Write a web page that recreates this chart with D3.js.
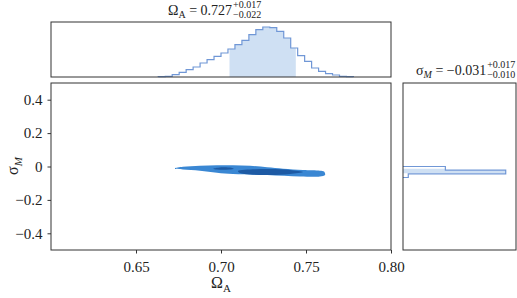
<!DOCTYPE html>
<html>
<head>
<meta charset="utf-8">
<script src="https://cdn.jsdelivr.net/npm/d3@7"></script>
<style>
body { margin: 0; background: #fff; }
text { font-family: "Liberation Serif", "DejaVu Serif", serif; fill: #222; }
</style>
</head>
<body>
<div id="chart"></div>
<script>
// marginal histogram of Omega_A (bin edges + relative counts)
const omegaEdges = [0.6631, 0.6672, 0.6713, 0.6754, 0.6795, 0.6836, 0.6877, 0.6918, 0.6959, 0.7000,
    0.7041, 0.7082, 0.7123, 0.7164, 0.7205, 0.7246, 0.7287, 0.7328, 0.7369, 0.7410,
    0.7451, 0.7492, 0.7533, 0.7574, 0.7615, 0.7656, 0.7697, 0.7738, 0.7779]
const omegaCounts = [0.3, 0.7, 2.3, 4.7, 7.3, 10, 14, 17.3, 20.7, 24, 28, 32.3, 36.7, 42.3,
    47.3, 50, 49.3, 45.7, 39, 29, 21.3, 15.7, 9, 5.7, 3.3, 2, 0.7, 0.3]
const omegaBand = [0.705, 0.744]
const omegaSummary = ["0.727", "+0.017", "\u22120.022"]

// marginal histogram of sigma_M
const sigmaEdges = [0.0, -0.022, -0.044, -0.066]
const sigmaCounts = [42.6, 103.3, 5.3]
const sigmaBand = [-0.041, -0.014]
const sigmaSummary = ["\u22120.031", "+0.017", "\u22120.010"]

// 2d credible regions (Omega_A, sigma_M)
const outerContour = [
    [0.6729, -0.0108], [0.6776, -0.0018], [0.6876, 0.0042], [0.6976, 0.0078], [0.7071, 0.0072],
    [0.7171, 0.0042], [0.7271, -0.0048], [0.7365, -0.0132], [0.7482, -0.0210], [0.7582, -0.0251],
    [0.7606, -0.0299], [0.7612, -0.0509], [0.7582, -0.0599], [0.7465, -0.0599], [0.7271, -0.0509],
    [0.7071, -0.0449], [0.6976, -0.0371], [0.6876, -0.0251], [0.6776, -0.0180]
]
const innerContours = [
    [[0.6955, -0.013], [0.6985, -0.007], [0.7020, -0.005], [0.7060, -0.008], [0.7075, -0.013],
     [0.7050, -0.018], [0.7010, -0.020], [0.6975, -0.018]],
    [[0.7100, -0.027], [0.7200, -0.0168], [0.7288, -0.015], [0.7406, -0.021], [0.7482, -0.033],
     [0.7406, -0.045], [0.7288, -0.051], [0.7171, -0.048], [0.7112, -0.039]]
]

const xTicks = [0.65, 0.70, 0.75, 0.80]
const yTicks = [0.4, 0.2, 0, -0.2, -0.4]

const W = 517, H = 298
const lineColor = "#7097d6", fillColor = "#cfe0f3"
const outerColor = "#3a87d3", innerColor = "#1d5aa4"

const svg = d3.select('#chart').append('svg')
    .attr('width', W)
    .attr('height', H)

const x = d3.scaleLinear().domain([0.60, 0.80]).range([51, 391])
const y = d3.scaleLinear().domain([-0.5, 0.5]).range([250, 83])
const yTop = d3.scaleLinear().domain([0, d3.max(omegaCounts) * 1.1]).range([77, 22])
const xRight = d3.scaleLinear().domain([0, d3.max(sigmaCounts) * 1.1]).range([403, 516])

// ---- top histogram
const topPts = [[omegaEdges[0], 0]]
omegaCounts.forEach((c, i) => {
    topPts.push([omegaEdges[i], c])
    topPts.push([omegaEdges[i + 1], c])
})
topPts.push([omegaEdges[omegaEdges.length - 1], 0])

svg.append('clipPath').attr('id', 'clipTop')
    .append('rect')
    .attr('x', x(omegaBand[0])).attr('y', 22)
    .attr('width', x(omegaBand[1]) - x(omegaBand[0])).attr('height', 55)

svg.append('path')
    .datum(topPts)
    .attr('clip-path', 'url(#clipTop)')
    .attr('fill', fillColor)
    .attr('d', d3.line().x(d => x(d[0])).y(d => yTop(d[1])))

svg.append('path')
    .datum(topPts)
    .attr('fill', 'none')
    .attr('stroke', lineColor)
    .attr('stroke-width', 1.2)
    .attr('d', d3.line().x(d => x(d[0])).y(d => yTop(d[1])))

svg.append('rect')
    .attr('x', 51).attr('y', 22).attr('width', 340).attr('height', 55)
    .attr('fill', 'none').attr('stroke', '#333').attr('stroke-width', 1)

// ---- right histogram
const rightPts = [[0, sigmaEdges[0]]]
sigmaCounts.forEach((c, i) => {
    rightPts.push([c, sigmaEdges[i]])
    rightPts.push([c, sigmaEdges[i + 1]])
})
rightPts.push([0, sigmaEdges[sigmaEdges.length - 1]])

svg.append('clipPath').attr('id', 'clipRight')
    .append('rect')
    .attr('x', 403).attr('y', y(sigmaBand[1]))
    .attr('width', 113).attr('height', y(sigmaBand[0]) - y(sigmaBand[1]))

svg.append('path')
    .datum(rightPts)
    .attr('clip-path', 'url(#clipRight)')
    .attr('fill', fillColor)
    .attr('d', d3.line().x(d => xRight(d[0])).y(d => y(d[1])))

svg.append('path')
    .datum(rightPts)
    .attr('fill', 'none')
    .attr('stroke', lineColor)
    .attr('stroke-width', 1.2)
    .attr('d', d3.line().x(d => xRight(d[0])).y(d => y(d[1])))

svg.append('rect')
    .attr('x', 403).attr('y', 83).attr('width', 113).attr('height', 167)
    .attr('fill', 'none').attr('stroke', '#333').attr('stroke-width', 1)

// ---- main panel contours
const blob = d3.line().x(d => x(d[0])).y(d => y(d[1])).curve(d3.curveCatmullRomClosed.alpha(0.5))
svg.append('path').attr('d', blob(outerContour)).attr('fill', outerColor)
innerContours.forEach(c => svg.append('path').attr('d', blob(c)).attr('fill', innerColor))

svg.append('rect')
    .attr('x', 51).attr('y', 83).attr('width', 340).attr('height', 167)
    .attr('fill', 'none').attr('stroke', '#333').attr('stroke-width', 1)

// axes
const xAxis = svg.append('g')
    .attr('transform', 'translate(0,250)')
    .call(d3.axisBottom(x).tickValues(xTicks).tickFormat(d3.format('.2f')).tickSize(3.5).tickPadding(8))
const yAxis = svg.append('g')
    .attr('transform', 'translate(51,0)')
    .call(d3.axisLeft(y).tickValues(yTicks).tickFormat(d => d === 0 ? '0' : d3.format('.1f')(d)).tickSize(3.5).tickPadding(5))
;[xAxis, yAxis].forEach(a => {
    a.select('.domain').remove()
    a.selectAll('line').attr('stroke', '#333')
    a.selectAll('text').attr('font-size', 15).attr('font-family', '"Liberation Serif", serif').attr('fill', '#222')
})

// axis labels
const xl = svg.append('text').attr('x', 221).attr('y', 288).attr('text-anchor', 'middle').attr('font-size', 16)
xl.append('tspan').text('\u03A9')
xl.append('tspan').attr('font-size', 11).attr('dy', 4).text('A')

const yl = svg.append('text').attr('transform', 'translate(18,166) rotate(-90)').attr('text-anchor', 'middle').attr('font-size', 16)
yl.append('tspan').text('\u03C3')
yl.append('tspan').attr('font-size', 11).attr('dy', 4).attr('font-style', 'italic').text('M')

// titles with stacked super/subscripts
const title = (x0, y0, sym, sub, subItalic, s) => {
    const t = svg.append('text').attr('x', x0).attr('y', y0).attr('font-size', 14)
    t.append('tspan').text(sym)
    t.append('tspan').attr('font-size', 10).attr('dy', 3).attr('font-style', subItalic ? 'italic' : null).text(sub)
    t.append('tspan').attr('dy', -3).text(' = ' + s[0])
    const w = t.node().getComputedTextLength()
    svg.append('text').attr('x', x0 + w + 1).attr('y', y0 - 7).attr('font-size', 10).text(s[1])
    svg.append('text').attr('x', x0 + w + 1).attr('y', y0 + 3).attr('font-size', 10).text(s[2])
}
title(168, 15, '\u03A9', 'A', false, omegaSummary)
title(416, 75, '\u03C3', 'M', true, sigmaSummary)
</script>
</body>
</html>
